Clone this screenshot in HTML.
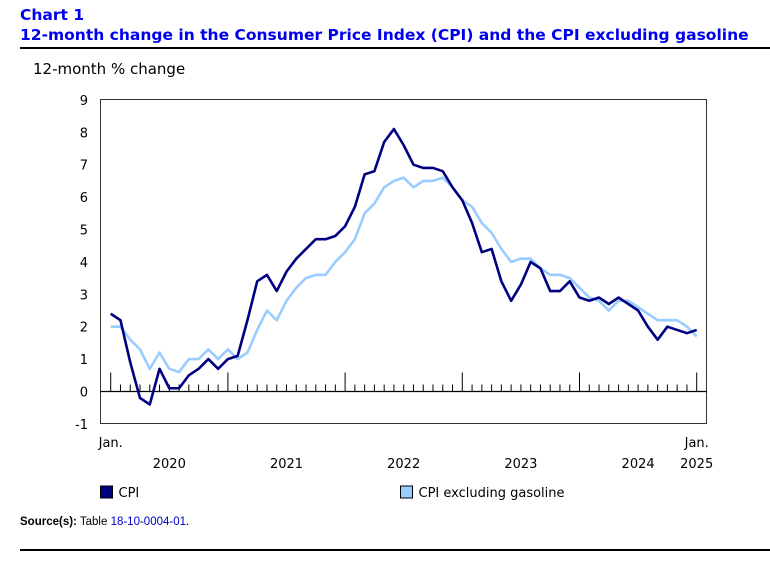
<!DOCTYPE html>
<html><head><meta charset="utf-8"><style>
body{margin:0;background:#fff;width:770px;height:568px;overflow:hidden;font-family:"DejaVu Sans",sans-serif;position:relative}
.t{position:absolute;color:#0000ee;font-weight:bold;font-size:15.5px;left:20px;font-family:"DejaVu Sans",sans-serif;white-space:nowrap}
svg text{font-family:"DejaVu Sans",sans-serif}
</style></head><body>
<div class="t" style="top:6px">Chart 1</div>
<div class="t" style="top:26px">12-month change in the Consumer Price Index (CPI) and the CPI excluding gasoline</div>
<div style="position:absolute;left:20px;right:0;top:47px;height:2px;background:#000"></div>
<div style="position:absolute;left:20px;right:0;top:549px;height:2px;background:#000"></div>
<div style="position:absolute;left:20px;top:516px;font-size:11.5px;font-family:'Liberation Sans',sans-serif"><b>Source(s):</b> Table <span style="color:#0000cc">18-10-0004-01</span>.</div>
<svg id="c" width="770" height="568" style="position:absolute;left:0;top:0"></svg>
<script>
const yTicks=[-1,0,1,2,3,4,5,6,7,8,9];
const years=["2020","2021","2022","2023","2024"];
const cpi=[2.4,2.2,0.9,-0.2,-0.4,0.7,0.1,0.1,0.5,0.7,1.0,0.7,
1.0,1.1,2.2,3.4,3.6,3.1,3.7,4.1,4.4,4.7,4.7,4.8,
5.1,5.7,6.7,6.8,7.7,8.1,7.6,7.0,6.9,6.9,6.8,6.3,
5.9,5.2,4.3,4.4,3.4,2.8,3.3,4.0,3.8,3.1,3.1,3.4,
2.9,2.8,2.9,2.7,2.9,2.7,2.5,2.0,1.6,2.0,1.9,1.8,1.9];
const cpiExGas=[2.0,2.0,1.6,1.3,0.7,1.2,0.7,0.6,1.0,1.0,1.3,1.0,
1.3,1.0,1.2,1.9,2.5,2.2,2.8,3.2,3.5,3.6,3.6,4.0,
4.3,4.7,5.5,5.8,6.3,6.5,6.6,6.3,6.5,6.5,6.6,6.3,
5.9,5.7,5.2,4.9,4.4,4.0,4.1,4.1,3.8,3.6,3.6,3.5,
3.2,2.9,2.8,2.5,2.8,2.8,2.6,2.4,2.2,2.2,2.2,2.0,1.7];
const svg=document.getElementById('c');const NS='http://www.w3.org/2000/svg';
function el(t,a,p){const e=document.createElementNS(NS,t);for(const k in a)e.setAttribute(k,a[k]);(p||svg).appendChild(e);return e;}
const X=i=>110.7+i*(586/60), Y=v=>391.5-v*32.4;
let e;
e=el('rect',{x:100.5,y:99.5,width:606,height:324,fill:'none',stroke:'#333','stroke-width':1});


e=el('text',{x:33,y:74,'font-size':15});e.textContent='12-month % change';


yTicks.forEach(v=>{
 const t=el('text',{x:88,y:Y(v)+5,'font-size':13,'text-anchor':'end'});t.textContent=v;
 
 
});
e=el('line',{x1:100,x2:707,y1:Y(0),y2:Y(0),stroke:'#000','stroke-width':1.2});


for(let i=0;i<cpi.length;i++){
 const maj=i%12==0;
 const t=el('line',{x1:X(i),x2:X(i),y1:Y(0),y2:Y(0)-(maj?19:7),stroke:'#000','stroke-width':1});
 
 
}
function lab(txt,x,y,n){const t=el('text',{x:x,y:y,'font-size':13,'text-anchor':'middle'});t.textContent=txt;
 
 }
lab('Jan.',X(0),447,'x-label-jan-start');
lab('Jan.',X(60),447,'x-label-jan-end');
lab('2025',X(60),468,'x-label-2025');
years.forEach((y,k)=>lab(y,X(k*12+6),468,'x-year-label'));
function line(d,c,n){const p=el('polyline',{points:d.map((v,i)=>X(i)+','+Y(v)).join(' '),fill:'none',stroke:c,'stroke-width':2.6,'stroke-linejoin':'round'});
 
 }
line(cpiExGas,'#99ccff','series-cpi-excluding-gasoline');
line(cpi,'#000080','series-cpi');
function leg(x,c,txt,n){
 const r=el('rect',{x:x,y:486,width:12,height:12,fill:c,stroke:'#000','stroke-width':1});
 
 
 const t=el('text',{x:x+18,y:497,'font-size':13});t.textContent=txt;
 
 }
leg(100.5,'#000080','CPI','legend-cpi');
leg(400.5,'#99ccff','CPI excluding gasoline','legend-cpi-excluding-gasoline');
</script>
</body></html>
